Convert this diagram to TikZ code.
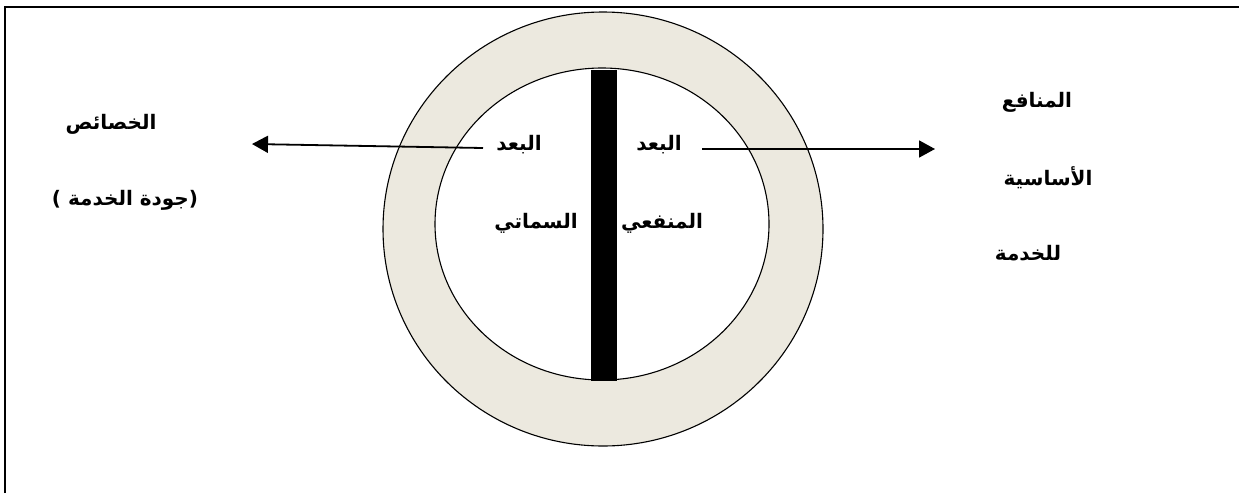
\documentclass[tikz,border=0pt]{standalone}
\usepackage{fontspec}
\usetikzlibrary{arrows.meta}
\TeXXeTstate=1
\newfontfamily\arabicfont[Script=Arabic, BoldFont={DejaVu Sans Bold}]{DejaVu Sans}
\definecolor{ringfill}{RGB}{236,233,223}
\tikzset{
  lbl/.style={font=\arabicfont\bfseries\fontsize{20}{23}\selectfont, inner sep=0pt, anchor=center},
  arr/.style={line width=1.8pt, -{Triangle[length=16pt,width=17pt]}},
  outline/.style={draw=black, line width=1.1pt}
}
\begin{document}
\begin{tikzpicture}[x=1pt,y=-1pt]
\useasboundingbox (0,0) rectangle (1239,493);
% frame (only top and left edges visible)
\draw[line width=1.6pt] (5,493) -- (5,7) -- (1239,7);
% ring
\path[outline, fill=ringfill] (603,229) ellipse [x radius=220, y radius=217];
\path[outline, fill=white] (602,224) ellipse [x radius=167, y radius=156];
% bar
\fill[black] (591,70) rectangle (617,381);
% labels
\node[lbl] (bl) at (519,145) {\beginR البعد\endR};
\node[lbl] (sm) at (536,223) {\beginR السماتي\endR};
\node[lbl] (br) at (659,145) {\beginR البعد\endR};
\node[lbl] (mn) at (662,223) {\beginR المنفعي\endR};
\node[lbl] (kh) at (111,124) {\beginR الخصائص\endR};
\node[lbl] (jw) at (125,200) {\beginR (جودة الخدمة )\endR};
\node[lbl] (mf) at (1037,102) {\beginR المنافع\endR};
\node[lbl] (as) at (1048,178) {\beginR الأساسية\endR};
\node[lbl] (lk) at (1028,253) {\beginR للخدمة\endR};
% arrows
\coordinate (la) at (483,148);
\coordinate (lb) at (252,144);
\coordinate (ra) at (702,149);
\coordinate (rb) at (935,149);
\draw[arr] (la) -- (lb);
\draw[arr] (ra) -- (rb);
\end{tikzpicture}
\end{document}
